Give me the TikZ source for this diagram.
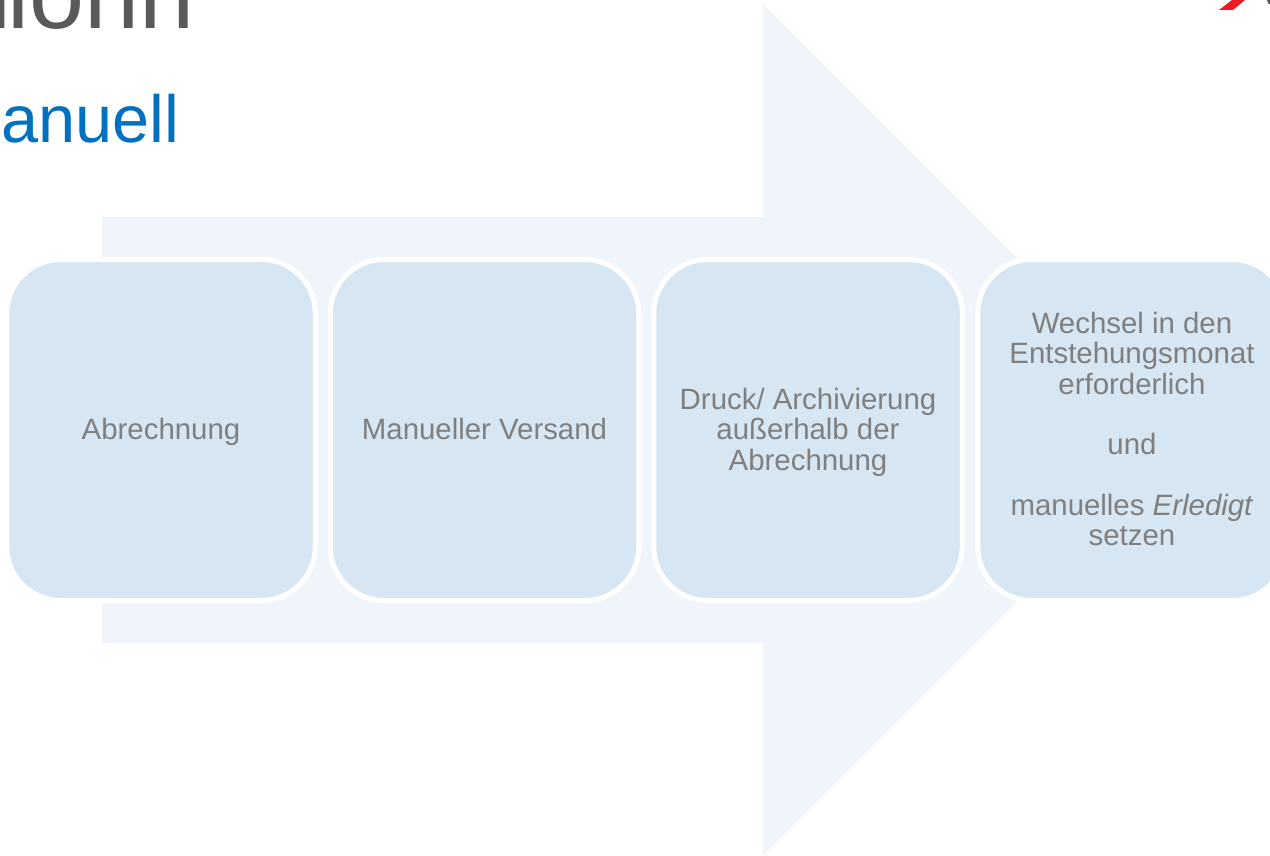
\documentclass[tikz,border=0pt]{standalone}
\usepackage{fontspec}
\setmainfont{Liberation Sans}
\definecolor{boxblue}{HTML}{D6E6F3}
\definecolor{arrowblue}{HTML}{F0F5FC}
\definecolor{textgray}{HTML}{7F7F7F}
\definecolor{headgray}{HTML}{595959}
\definecolor{titleblue}{HTML}{0070C0}
\definecolor{logored}{HTML}{ED1C24}
\newcommand{\toprule}[1]{\rule{0pt}{#1}}
\begin{document}
\begin{tikzpicture}[x=1pt,y=-1pt,
    stepbox/.style = {draw=white, line width=5pt, fill=boxblue, rounded corners=54pt,
                minimum width=308.5pt, minimum height=341pt, inner sep=0pt, outer sep=0pt,
                text=textgray, font=\fontsize{29.4}{30.3}\selectfont, align=center,
                execute at begin node={\rule{0pt}{28.2pt}}, execute at end node=\strut}
                    ]
        \useasboundingbox (0,0) rectangle (1270,856);
        \clip (0,0) rectangle (1270,856);
        \fill[arrowblue] (102,217) -- (763,217) -- (763,4) -- (1189,430) -- (763,856) -- (763,643) -- (102,643) -- cycle;
        \node[anchor=base west, inner sep=0pt, text=headgray, font=\fontsize{99}{99}\selectfont] (head) at (-11,29) {i\kern-4pt ionn};
        \node[anchor=base west, inner sep=0pt, text=titleblue, font=\fontsize{66.7}{66.7}\selectfont] (title) at (1,143) {anuell};
        \fill[logored] (1219,10) -- (1233,10) -- (1245,0) -- (1232,0) -- cycle;
        \fill[headgray] (1267,0) -- (1270,0) -- (1270,4) -- (1268.5,4) -- cycle;
        \node[stepbox] (abr) at (161,430) {Abrechnung};
        \node[stepbox] (vers) at (484.5,430) {Manueller Versand};
        \node[stepbox] (druck) at (808,430) {\toprule{29pt}Druck/ Archivierung\\außerhalb der\\Abrechnung};
        \node[stepbox] (wech) at (1132,430) {\toprule{28pt}Wechsel in den\\Entstehungsmonat\\erforderlich\\[30.3pt]und\\[30.3pt]manuelles \textit{Erledigt}\\setzen};
    \end{tikzpicture}
\end{document}
